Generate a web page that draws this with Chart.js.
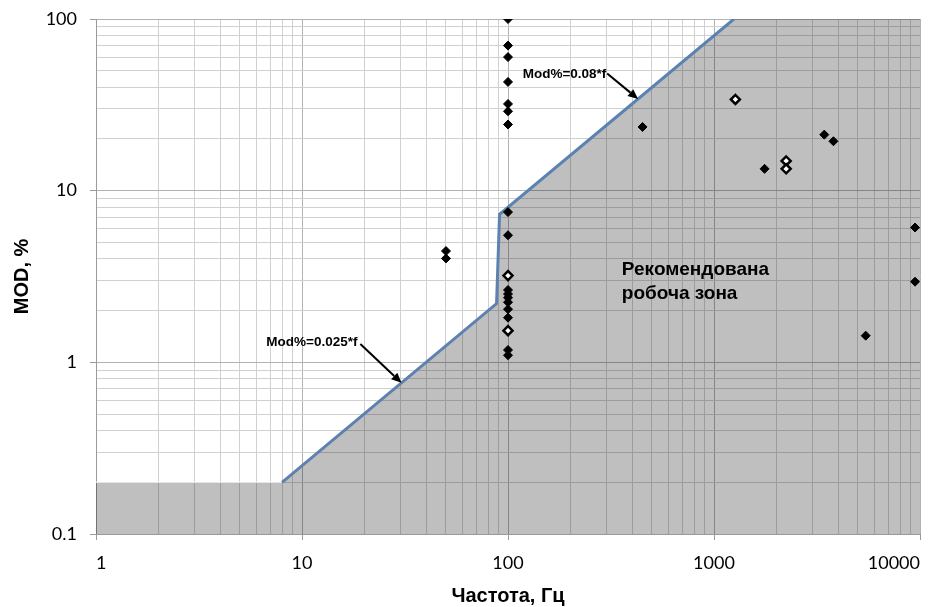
<!DOCTYPE html>
<html>
<head>
<meta charset="utf-8">
<script src="https://cdn.jsdelivr.net/npm/chart.js@4/dist/chart.umd.min.js"></script>
<style>
  html, body { margin: 0; padding: 0; background: #ffffff; }
  canvas { display: block; }
</style>
</head>
<body>
<canvas id="chart" width="948" height="607"></canvas>
<script>
// Axis labels (log scales, decades)
const xTickLabels = ['1', '10', '100', '1000', '10000'];
const yTickLabels = ['0.1', '1', '10', '100'];

// Recommended operating zone boundary: frequency (Hz) / MOD (%)
const zoneF   = [1, 8, 88, 91, 1250, 10000];
const zoneMod = [0.2, 0.2, 2.2, 7.28, 100, 100];

// Limit line: Mod% = 0.025*f below ~90 Hz, Mod% = 0.08*f above
const limitF   = [8, 88, 91, 1250];
const limitMod = [0.2, 2.2, 7.28, 100];

// Measured light sources (solid markers)
const measF   = [100, 100, 100, 100, 100, 100, 100, 100, 100, 100, 100, 100, 100, 100, 100, 100, 100,
                 50, 50, 450, 1760, 3430, 3800, 9460, 9460, 5450];
const measMod = [100, 70, 60, 43, 32, 29, 24.3, 7.5, 5.5, 2.64, 2.5, 2.38, 2.24, 2.04, 1.82, 1.18, 1.10,
                 4.45, 4.03, 23.5, 13.4, 21.2, 19.4, 6.1, 2.95, 1.43];

// Measured light sources (open markers)
const openF   = [100, 100, 1270, 2240, 2240];
const openMod = [3.2, 1.53, 34, 14.9, 13.4];

const toPoints = (xs, ys) => xs.map((x, i) => ({ x: x, y: ys[i] }));

// Gridline values: every integer multiple inside each decade
function logGrid(labels) {
  const vals = [];
  const decades = labels.map(Number);
  decades.forEach((d, i) => {
    vals.push({ value: d, major: true });
    if (i < decades.length - 1) {
      for (let k = 2; k <= 9; k++) vals.push({ value: d * k, major: false });
    }
  });
  return vals;
}

function labelFor(labels) {
  return function (value) {
    const hit = labels.find(l => Math.abs(Number(l) - value) < 1e-9 * Math.max(1, value));
    return hit !== undefined ? hit : '';
  };
}

const gridColor = ctx => (ctx.tick && ctx.tick.major) ? '#b2b2b2' : '#d0d0d0';
const tickColor = ctx => (ctx.tick && ctx.tick.major) ? '#9a9a9a' : 'rgba(0,0,0,0)';

// Label overhang is handled by the layout padding instead
function noOverhang(s) {
  s.paddingLeft = 0; s.paddingRight = 0; s.paddingTop = 0; s.paddingBottom = 0;
}

// Text notes and arrows placed in data coordinates
const notes = [
  { text: 'Рекомендована', f: 357, m: 3.45, align: 'left', size: 19 },
  { text: 'робоча зона',   f: 357, m: 2.50, align: 'left', size: 19 },
  { text: 'Mod%=0.025*f',  f: 18.6, m: 1.31, align: 'right', size: 13.5 },
  { text: 'Mod%=0.08*f',   f: 300, m: 47.8, align: 'right', size: 13.5 }
];
const arrows = [
  { f0: 19.2, m0: 1.28, f1: 30.4, m1: 0.76 },
  { f0: 303, m0: 48.2, f1: 428, m1: 34.2 }
];

const notesPlugin = {
  id: 'notes',
  afterDatasetsDraw(chart) {
    const { ctx, scales: { x, y } } = chart;
    ctx.save();
    ctx.fillStyle = '#000';
    ctx.textBaseline = 'middle';
    notes.forEach(n => {
      ctx.font = 'bold ' + n.size + 'px "Liberation Sans", Arial, sans-serif';
      ctx.textAlign = n.align;
      ctx.fillText(n.text, x.getPixelForValue(n.f), y.getPixelForValue(n.m));
    });
    ctx.strokeStyle = '#000';
    ctx.lineWidth = 2;
    arrows.forEach(a => {
      const x0 = x.getPixelForValue(a.f0), y0 = y.getPixelForValue(a.m0);
      const x1 = x.getPixelForValue(a.f1), y1 = y.getPixelForValue(a.m1);
      const ang = Math.atan2(y1 - y0, x1 - x0);
      const head = 10, half = 4.5;
      const bx = x1 - head * Math.cos(ang), by = y1 - head * Math.sin(ang);
      ctx.beginPath();
      ctx.moveTo(x0, y0);
      ctx.lineTo(bx, by);
      ctx.stroke();
      ctx.beginPath();
      ctx.moveTo(x1, y1);
      ctx.lineTo(bx + half * Math.sin(ang), by - half * Math.cos(ang));
      ctx.lineTo(bx - half * Math.sin(ang), by + half * Math.cos(ang));
      ctx.closePath();
      ctx.fill();
    });
    ctx.restore();
  }
};

new Chart(document.getElementById('chart'), {
  type: 'scatter',
  data: {
    datasets: [
      {
        label: 'zone',
        type: 'line',
        data: toPoints(zoneF, zoneMod),
        showLine: true,
        fill: 'start',
        backgroundColor: 'rgba(0,0,0,0.25)',
        borderWidth: 1.5,
        segment: {
          borderColor: ctx => ctx.p0DataIndex === 0 ? 'rgba(255,255,255,0.7)' : 'rgba(0,0,0,0)'
        },
        pointRadius: 0,
        tension: 0,
        order: 4
      },
      {
        label: 'limit',
        type: 'line',
        data: toPoints(limitF, limitMod),
        showLine: true,
        fill: false,
        borderColor: '#5b82b0',
        borderWidth: 3,
        pointRadius: 0,
        tension: 0,
        order: 3
      },
      {
        label: 'measured',
        data: toPoints(measF, measMod),
        pointStyle: 'rectRot',
        pointRadius: 4.5,
        pointBackgroundColor: '#000',
        pointBorderColor: '#000',
        pointBorderWidth: 1,
        order: 2
      },
      {
        label: 'measured-open',
        data: toPoints(openF, openMod),
        pointStyle: 'rectRot',
        pointRadius: 4.5,
        pointBackgroundColor: '#ffffff',
        pointBorderColor: '#000',
        pointBorderWidth: 2.5,
        order: 1
      }
    ]
  },
  options: {
    responsive: false,
    animation: false,
    devicePixelRatio: 1,
    layout: { padding: { top: 19, right: 28, left: 0, bottom: 0 } },
    plugins: {
      legend: { display: false },
      tooltip: { enabled: false }
    },
    scales: {
      x: {
        type: 'logarithmic',
        min: 1,
        max: 10000,
        afterBuildTicks: s => { s.ticks = logGrid(xTickLabels); },
        afterFit: s => { s.height = 73; noOverhang(s); },
        grid: { color: gridColor, tickColor: tickColor, tickLength: 6, lineWidth: 1 },
        border: { color: '#9a9a9a', width: 1 },
        ticks: {
          autoSkip: false,
          maxRotation: 0,
          align: 'inner',
          padding: 12,
          color: '#000',
          font: { family: 'Lato', size: 18 },
          callback: labelFor(xTickLabels)
        },
        title: {
          display: true,
          text: 'Частота, Гц',
          color: '#000',
          font: { family: '"Liberation Sans", Arial, sans-serif', size: 20, weight: 'bold', lineHeight: 1.1 },
          padding: { top: 0, bottom: 0 }
        }
      },
      y: {
        type: 'logarithmic',
        min: 0.1,
        max: 100,
        afterBuildTicks: s => { s.ticks = logGrid(yTickLabels); },
        afterFit: s => { s.width = 96; noOverhang(s); },
        grid: { color: gridColor, tickColor: tickColor, tickLength: 6, lineWidth: 1 },
        border: { color: '#9a9a9a', width: 1 },
        ticks: {
          autoSkip: false,
          padding: 13,
          color: '#000',
          font: { family: 'Lato', size: 18 },
          callback: labelFor(yTickLabels)
        },
        title: {
          display: true,
          text: 'MOD, %',
          color: '#000',
          font: { family: '"Liberation Sans", Arial, sans-serif', size: 20, weight: 'bold', lineHeight: 1.1 },
          padding: { top: 11, bottom: 0 }
        }
      }
    }
  },
  plugins: [notesPlugin]
});
</script>
</body>
</html>
